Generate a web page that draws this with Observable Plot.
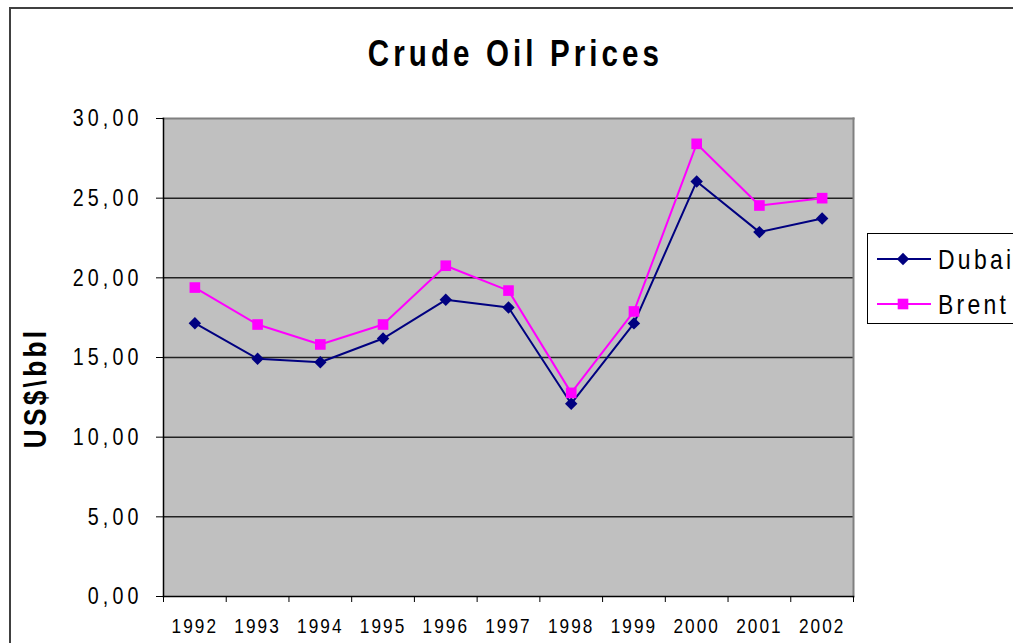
<!DOCTYPE html>
<html><head><meta charset="utf-8">
<script src="https://cdn.jsdelivr.net/npm/d3@7"></script>
<script src="https://cdn.jsdelivr.net/npm/@observablehq/plot@0.6"></script>
<style>
body{margin:0;background:#fff;}
#wrap{position:relative;width:1013px;height:643px;overflow:hidden;font-family:"Liberation Sans",Arial,sans-serif;color:#000;}
#border{position:absolute;left:9px;top:7px;width:1100px;height:700px;border-left:2px solid #404040;border-top:2px solid #404040;box-sizing:border-box;}
#title{position:absolute;left:0;top:36px;width:1031px;text-align:center;font-size:36px;font-weight:bold;letter-spacing:5px;line-height:1;transform:scaleX(0.82);transform-origin:center center;}
#ylab{position:absolute;left:-65px;top:372px;width:200px;text-align:center;font-size:32px;font-weight:bold;letter-spacing:4px;line-height:1;transform:rotate(-90deg) scaleX(0.82);transform-origin:center center;}
#chart{position:absolute;left:0;top:0;}
#legend{position:absolute;left:867px;top:233px;}
g[aria-label="y-axis tick label"]{letter-spacing:5px;}
g[aria-label="x-axis tick label"]{letter-spacing:2.5px;}
</style></head><body><div id="wrap"><div id="border"></div><div id="chart"></div><div id="title">Crude Oil Prices</div><div id="ylab">US$\bbl</div><div id="legend"></div></div>
<script>
const years = [1992,1993,1994,1995,1996,1997,1998,1999,2000,2001,2002];
const dubai = [17.15,14.92,14.70,16.19,18.62,18.14,12.10,17.14,26.05,22.87,23.72];
const brent = [19.39,17.07,15.82,17.07,20.76,19.20,12.78,17.89,28.41,24.54,25.00];
const yTicks = [0,5,10,15,20,25,30];
const xTickEdges = [1991.5,1992.5,1993.5,1994.5,1995.5,1996.5,1997.5,1998.5,1999.5,2000.5,2001.5,2002.5];
const seriesNames = ["Dubai","Brent"];
const seriesColors = ["#000080","#FF00FF"];

const dubaiData = years.map((y,i)=>({year:y, value:dubai[i]}));
const brentData = years.map((y,i)=>({year:y, value:brent[i]}));

const fmt = d => d.toFixed(2).replace(".", ",");
const FONT = '"Liberation Sans",Arial,sans-serif';
const SQ = 0.82; // horizontal squeeze to mimic a narrow face
const rDiamond = 5.6, rSquare = 6.0;

const chart = Plot.plot({
  width:1013, height:643,
  marginLeft:163, marginRight:160, marginTop:118, marginBottom:47,
  x:{type:"linear", domain:[xTickEdges[0], xTickEdges[xTickEdges.length-1]]},
  y:{domain:[0,30]},
  style:{fontFamily:FONT, background:"transparent", color:"#000"},
  marks:[
    Plot.frame({fill:"#c0c0c0", stroke:null}),
    Plot.ruleY(yTicks.filter(v=>v>0 && v<30), {stroke:"#222", strokeWidth:1.5}),
    Plot.frame({anchor:"top", stroke:"#808080", strokeWidth:2}),
    Plot.frame({anchor:"right", stroke:"#808080", strokeWidth:2}),
    Plot.frame({anchor:"left", stroke:"#000", strokeWidth:1.5}),
    Plot.frame({anchor:"bottom", stroke:"#000", strokeWidth:1.5}),
    Plot.line(dubaiData, {x:"year", y:"value", stroke:seriesColors[0], strokeWidth:2}),
    Plot.dot(dubaiData, {x:"year", y:"value", symbol:"diamond2", fill:seriesColors[0], r:rDiamond}),
    Plot.line(brentData, {x:"year", y:"value", stroke:seriesColors[1], strokeWidth:2}),
    Plot.dot(brentData, {x:"year", y:"value", symbol:"square", fill:seriesColors[1], r:rSquare}),
    Plot.axisY(yTicks, {tickSize:7, tickPadding:14, tickFormat:fmt, fontSize:24, label:null, stroke:"#000"}),
    Plot.axisX(xTickEdges, {tickSize:6, tickFormat:()=>"", label:null, stroke:"#000"}),
    Plot.axisX(years, {tickSize:0, tickPadding:22, tickFormat:d=>String(d), fontSize:21, label:null})
  ]
});
document.getElementById("chart").appendChild(chart);

function squeeze(root, sel, s){
  d3.select(root).selectAll(sel).each(function(){
    const t = this.getAttribute("transform") || "";
    const x = parseFloat(this.getAttribute("x")) || 0, y = parseFloat(this.getAttribute("y")) || 0;
    const hasEm = /em$/.test(this.getAttribute("y") || "");
    const yy = hasEm ? 0 : y;
    this.setAttribute("transform", `${t} translate(${x},${yy}) scale(${s},1) translate(${-x},${-yy})`);
  });
}
squeeze(chart, 'g[aria-label="y-axis tick label"] text', SQ);
squeeze(chart, 'g[aria-label="x-axis tick label"] text', SQ);

// legend
const lg = d3.select("#legend").append("svg").attr("width",146).attr("height",92);
lg.append("rect").attr("x",0.5).attr("y",0.5).attr("width",200).attr("height",90)
  .attr("fill","#fff").attr("stroke","#000").attr("stroke-width",1);
const rows = [26, 71];
seriesNames.forEach((name,i)=>{
  const g = lg.append("g").attr("transform",`translate(0,${rows[i]})`);
  g.append("line").attr("x1",10).attr("x2",64).attr("y1",0).attr("y2",0)
    .attr("stroke",seriesColors[i]).attr("stroke-width",2);
  const sym = i===0 ? d3.symbolDiamond2 : d3.symbolSquare;
  const rr = i===0 ? rDiamond : rSquare;
  g.append("path").attr("d",d3.symbol(sym, rr*rr*Math.PI)()).attr("transform","translate(36,0)").attr("fill",seriesColors[i]);
  g.append("text").attr("transform",`translate(71,0) scale(${SQ},1)`).attr("dy","0.36em")
    .attr("font-size",28).attr("letter-spacing","4px")
    .attr("font-family",FONT)
    .text(name);
});
</script></body></html>
